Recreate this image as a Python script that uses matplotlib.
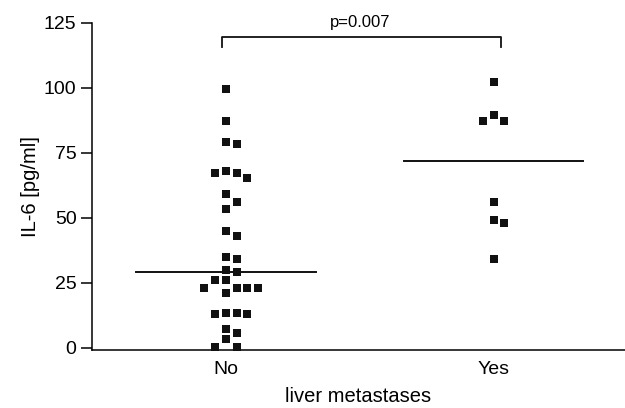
import numpy as np
import matplotlib
matplotlib.use("Agg")
import matplotlib.pyplot as plt

plt.rcParams['font.family'] = ['Liberation Sans', 'DejaVu Sans']

# IL-6 values
groups = ['No', 'Yes']
il6_no = [99.6, 87.3, 79.2, 78.5, 68.1, 67.3, 67.3, 65.4, 59.2, 56.2, 53.5,
          45.0, 43.1, 35.0, 34.2, 30.0, 29.2, 26.2, 26.2, 23.1, 23.1, 23.1,
          23.1, 21.2, 13.5, 13.5, 13.1, 13.1, 7.3, 5.8, 3.5, 0.4, 0.4]
il6_yes = [102.3, 89.6, 87.3, 87.3, 56.2, 49.2, 48.1, 34.2]
p_text = 'p=0.007'


def swarm(values, gap=3.2, step=0.04):
    # greedy column placement: centre first, then alternate right/left
    order = [0, 1, -1, 2, -2, 3, -3]
    placed = []
    xs = []
    for v in values:
        for k in order:
            if all(not (pk == k and abs(pv - v) < gap) for pk, pv in placed):
                placed.append((k, v))
                xs.append(k * step)
                break
    return np.array(xs)


fig = plt.figure(figsize=(6.25, 4.08), dpi=100)
ax = fig.add_axes([0.147, 0.142, 0.853, 0.802])

for i, vals in enumerate([il6_no, il6_yes]):
    vals = sorted(vals, reverse=True)
    xs = i + 1 + swarm(vals)
    ax.scatter(xs, vals, marker='s', s=36, color='#111111', linewidths=0, zorder=3)
    med = np.median(vals)
    ax.plot([i + 1 - 0.335, i + 1 + 0.335], [med, med], color='#111111', lw=1.4, zorder=2)

# significance bracket
ax.plot([0.985, 0.985, 2.027, 2.027], [115.8, 119.6, 119.6, 115.8],
        color='#111111', lw=1.3, clip_on=False)
ax.text(1.5, 122.3, p_text, ha='center', va='bottom', fontsize=12)

ax.set_xlim(0.5, 2.49)
ax.set_ylim(-0.8, 125)
ax.set_yticks([0, 25, 50, 75, 100, 125])
ax.set_xticks([1, 2])
ax.set_xticklabels(groups)
ax.tick_params(axis='y', length=8, width=1.1, labelsize=14, pad=3)
ax.tick_params(axis='x', length=0, labelsize=14, pad=8)
for side in ['top', 'right']:
    ax.spines[side].set_visible(False)
for side in ['left', 'bottom']:
    ax.spines[side].set_linewidth(1.1)
ax.set_ylabel('IL-6 [pg/ml]', fontsize=14.5, labelpad=3)
ax.set_xlabel('liver metastases', fontsize=14.5, labelpad=6)

fig.savefig('out.png', dpi=100)
